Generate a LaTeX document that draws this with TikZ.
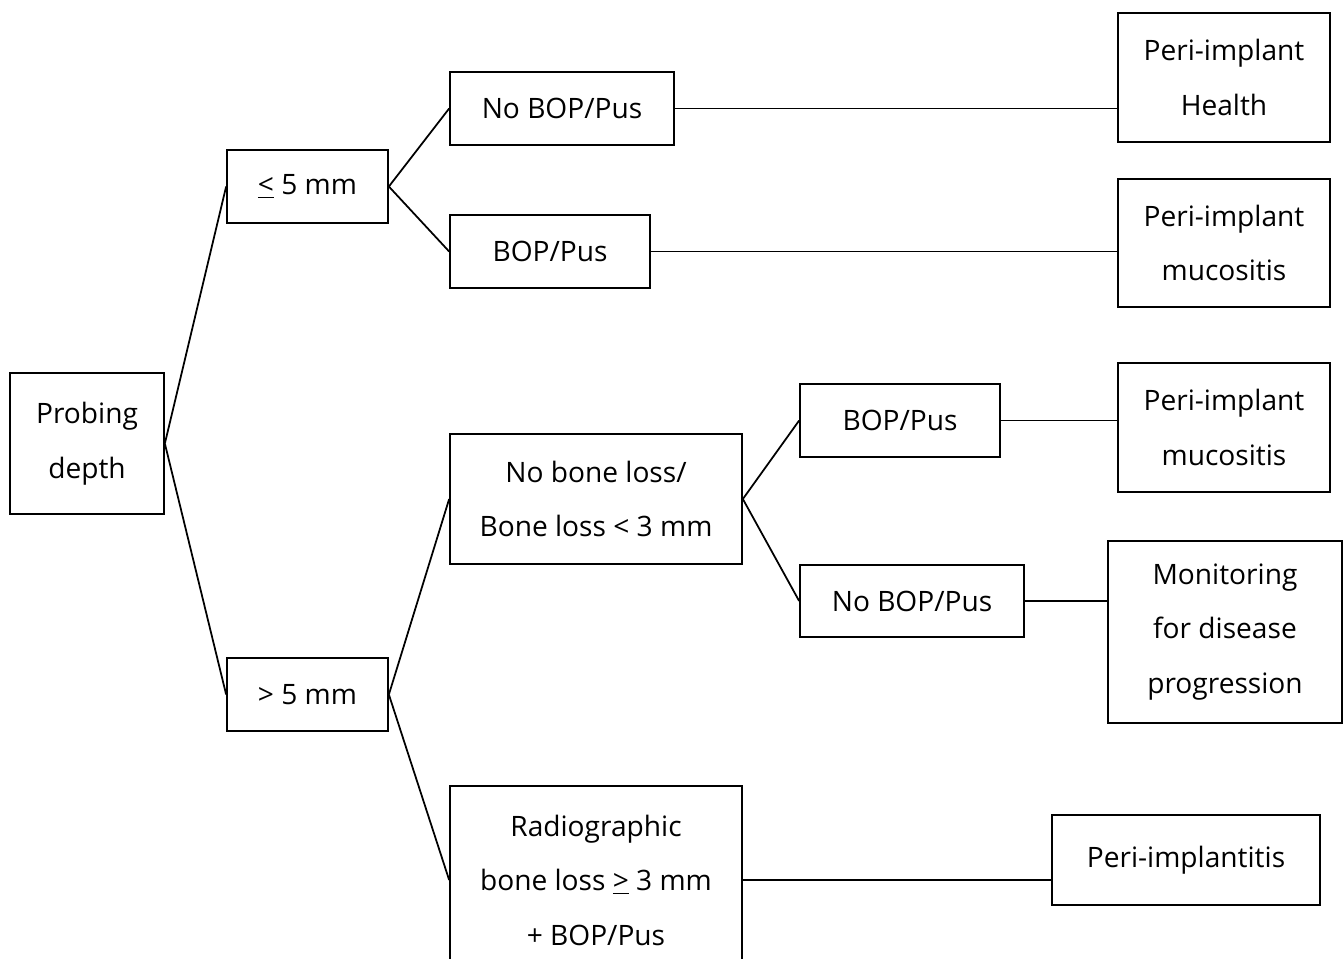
\documentclass[tikz,border=0pt]{standalone}
\usepackage{fontspec}
\setmainfont{Open Sans}
\usetikzlibrary{positioning}
\tikzset{box/.style={
    rectangle,draw=black,inner sep=0pt,align=center,
    font=\fontsize{16}{31}\selectfont}}
\tikzset{every picture/.style={line width=1pt}}

\begin{document}
\begin{tikzpicture}[x=0.02cm,y=-0.02cm]
  \useasboundingbox (0,0) rectangle (1344,958);
  \clip (0,0) rectangle (1344,958);

  \node (depth)  [box,minimum width=3.08cm,minimum height=2.82cm] at (87,443.5)   {Probing\\depth};
  \node (le5)    [box,minimum width=3.22cm,minimum height=1.46cm] at (307.5,186.5) {\underline{<} 5 mm};
  \node (gt5)    [box,minimum width=3.22cm,minimum height=1.46cm] at (307.5,694.5) {> 5 mm};

  \node (nobopA) [box,minimum width=4.48cm,minimum height=1.46cm] at (562,108.5)   {No BOP/Pus};
  \node (bopA)   [box,minimum width=4.00cm,minimum height=1.46cm] at (550,251.5)   {BOP/Pus};
  \node (noloss) [box,minimum width=5.84cm,minimum height=2.60cm] at (596,499)     {No bone loss/\\Bone loss < 3 mm};
  \node (radio)  [box,minimum width=5.84cm,minimum height=3.76cm] at (596,880)     {Radiographic\\bone loss \underline{>} 3 mm\\+ BOP/Pus};

  \node (bopB)   [box,minimum width=4.00cm,minimum height=1.46cm] at (900,420.5)   {BOP/Pus};
  \node (nobopB) [box,minimum width=4.48cm,minimum height=1.44cm] at (912,601)     {No BOP/Pus};

  \node (health) [box,minimum width=4.24cm,minimum height=2.58cm] at (1224,77.5)   {Peri-implant\\Health};
  \node (mucA)   [box,minimum width=4.24cm,minimum height=2.56cm] at (1224,243)    {Peri-implant\\mucositis};
  \node (mucB)   [box,minimum width=4.24cm,minimum height=2.58cm] at (1224,427.5)  {Peri-implant\\mucositis};
  \node (monit)  [box,minimum width=4.68cm,minimum height=3.64cm] at (1225,632)    {Monitoring\\for disease\\progression};
  \node (itis)   [box,minimum width=5.36cm,minimum height=1.80cm] at (1186,860)    {Peri-implantitis};

  % tree branches
  \draw (depth.east) -- (le5.west);
  \draw (depth.east) -- (gt5.west);
  \draw (le5.east) -- (nobopA.west);
  \draw (le5.east) -- (bopA.west);
  \draw (gt5.east) -- (noloss.west);
  \draw (gt5.east) -- (radio.west);
  \draw (noloss.east) -- (bopB.west);
  \draw (noloss.east) -- (nobopB.west);

  % outcomes
  \draw (nobopA.east) -- (nobopA.east -| health.west);
  \draw (bopA.east) -- (bopA.east -| mucA.west);
  \draw (bopB.east) -- (bopB.east -| mucB.west);
  \draw (nobopB.east) -- (nobopB.east -| monit.west);
  \draw (radio.east) -- (radio.east -| itis.west);

\end{tikzpicture}
\end{document}
